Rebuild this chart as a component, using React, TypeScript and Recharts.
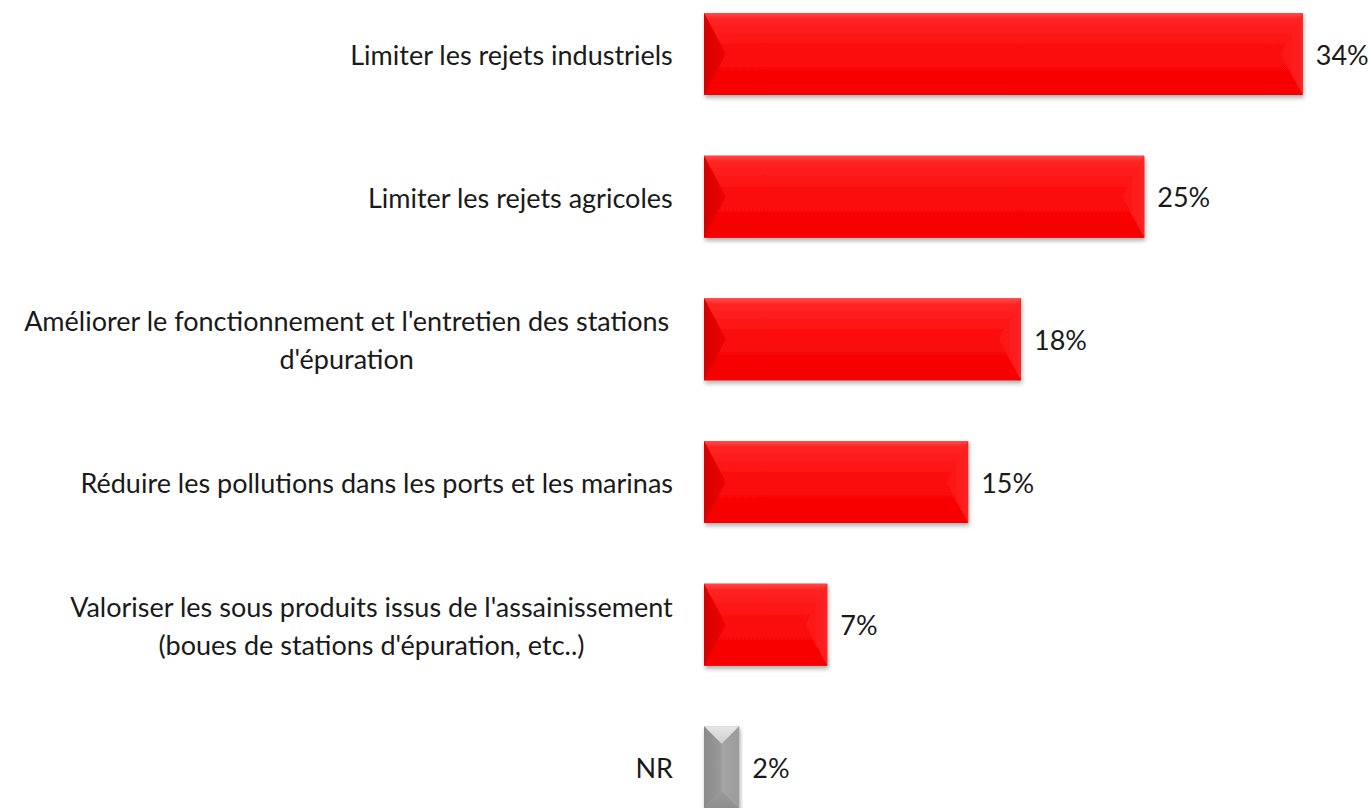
import React from "react";
import { BarChart, Bar, XAxis, YAxis, LabelList } from "recharts";

const categories = [
  "Limiter les rejets industriels",
  "Limiter les rejets agricoles",
  "Améliorer le fonctionnement  et l'entretien des stations\nd'épuration",
  "Réduire les pollutions dans les ports et les marinas",
  "Valoriser les sous produits issus de l'assainissement\n(boues de stations d'épuration, etc..)",
  "NR",
];
const values = [34, 25, 18, 15, 7, 2];
const valueLabels = ["34%", "25%", "18%", "15%", "7%", "2%"];
const barKinds = ["main", "main", "main", "main", "main", "nr"];

const data = categories.map((name, i) => ({
  name,
  value: values[i],
  label: valueLabels[i],
  kind: barKinds[i],
}));

const FONT = "Lato, 'Open Sans', sans-serif";
const FONT_SIZE = 27;

let ctx: CanvasRenderingContext2D | null = null;
function measure(t: string) {
  if (!ctx) {
    const c = document.createElement("canvas");
    ctx = c.getContext("2d");
  }
  if (!ctx) return t.length * 12;
  ctx.font = `${FONT_SIZE}px Lato`;
  return ctx.measureText(t).width;
}

const CategoryTick = (props: any) => {
  const { x, y, payload } = props;
  const lines: string[] = String(payload.value).split("\n");
  const widths = lines.map(measure);
  const maxW = Math.max(...widths);
  const lh = 38;
  const startY = y - ((lines.length - 1) * lh) / 2;
  return (
    <g>
      {lines.map((ln, i) => (
        <text
          key={i}
          x={x - maxW / 2}
          y={startY + i * lh}
          textAnchor="middle"
          dominantBaseline="central"
          fontFamily={FONT}
          fontSize={FONT_SIZE}
          fill="#1a1a1a"
        >
          {ln}
        </text>
      ))}
    </g>
  );
};

const BevelBar = (props: any) => {
  const { x, y, width: w, height: h, payload } = props;
  if (!w || w <= 0) return null;
  const nr = payload.kind === "nr";
  const bx = Math.min(22, w / 2);
  const by = nr ? bx : h / 2;
  const g = nr ? "nr" : "red";
  return (
    <g filter="url(#barShadow)">
      <rect x={x} y={y} width={w} height={h} fill={`url(#${g}Base)`} />
      <polygon
        points={`${x},${y} ${x + w},${y} ${x + w - bx},${y + by} ${x + bx},${y + by}`}
        fill={`url(#${g}Top)`}
      />
      <polygon
        points={`${x},${y + h} ${x + w},${y + h} ${x + w - bx},${y + h - by} ${x + bx},${y + h - by}`}
        fill={`url(#${g}Bottom)`}
      />
      <polygon
        points={`${x},${y} ${x + bx},${y + by} ${x + bx},${y + h - by} ${x},${y + h}`}
        fill={`url(#${g}Left)`}
      />
      <polygon
        points={`${x + w},${y} ${x + w - bx},${y + by} ${x + w - bx},${y + h - by} ${x + w},${y + h}`}
        fill={`url(#${g}Right)`}
      />
    </g>
  );
};

const ValueLabel = (props: any) => {
  const { x, y, width, height, value } = props;
  return (
    <text
      x={x + width + 13}
      y={y + height / 2}
      dominantBaseline="central"
      fontFamily={FONT}
      fontSize={FONT_SIZE}
      fill="#1a1a1a"
    >
      {value}
    </text>
  );
};

export default function App() {
  return (
    <div
      style={{
        position: "fixed",
        left: 0,
        top: 0,
        width: 1369,
        height: 808,
        overflow: "hidden",
        background: "#ffffff",
      }}
    >
      <div style={{ position: "absolute", left: 0, top: -17 }}>
        <BarChart
          width={1369}
          height={856}
          data={data}
          layout="vertical"
          margin={{ top: 0, right: 31, bottom: 0, left: 0 }}
          barCategoryGap="21%"
        >
          <defs>
            <filter id="barShadow" x="-10%" y="-20%" width="120%" height="150%">
              <feDropShadow dx="1" dy="3" stdDeviation="2" floodColor="#000" floodOpacity="0.3" />
            </filter>
            <linearGradient id="redBase" x1="0" y1="0" x2="0" y2="1">
              <stop offset="0" stopColor="#ff2020" />
              <stop offset="1" stopColor="#f50000" />
            </linearGradient>
            <linearGradient id="redTop" x1="0" y1="0" x2="0" y2="1">
              <stop offset="0" stopColor="#ff4a4a" />
              <stop offset="0.15" stopColor="#ff2424" />
              <stop offset="1" stopColor="#fc0a0a" />
            </linearGradient>
            <linearGradient id="redBottom" x1="0" y1="0" x2="0" y2="1">
              <stop offset="0" stopColor="#fc0a0a" />
              <stop offset="1" stopColor="#f50000" />
            </linearGradient>
            <linearGradient id="redLeft" x1="0" y1="0" x2="1" y2="0">
              <stop offset="0" stopColor="#d40000" />
              <stop offset="1" stopColor="#f20404" />
            </linearGradient>
            <linearGradient id="redRight" x1="0" y1="0" x2="1" y2="0">
              <stop offset="0" stopColor="#ff1212" />
              <stop offset="1" stopColor="#ff2222" />
            </linearGradient>
            <linearGradient id="nrBase" x1="0" y1="0" x2="1" y2="0">
              <stop offset="0" stopColor="#a8a8a8" />
              <stop offset="1" stopColor="#a8a8a8" />
            </linearGradient>
            <linearGradient id="nrTop" x1="0" y1="0" x2="0" y2="1">
              <stop offset="0" stopColor="#e6e6e6" />
              <stop offset="1" stopColor="#cfcfcf" />
            </linearGradient>
            <linearGradient id="nrBottom" x1="0" y1="0" x2="0" y2="1">
              <stop offset="0" stopColor="#9a9a9a" />
              <stop offset="1" stopColor="#8e8e8e" />
            </linearGradient>
            <linearGradient id="nrLeft" x1="0" y1="0" x2="1" y2="0">
              <stop offset="0" stopColor="#8a8a8a" />
              <stop offset="1" stopColor="#9a9a9a" />
            </linearGradient>
            <linearGradient id="nrRight" x1="0" y1="0" x2="1" y2="0">
              <stop offset="0" stopColor="#a4a4a4" />
              <stop offset="1" stopColor="#9c9c9c" />
            </linearGradient>
          </defs>
          <XAxis type="number" domain={[0, 36]} hide />
          <YAxis
            type="category"
            dataKey="name"
            width={704}
            axisLine={false}
            tickLine={false}
            tickSize={0}
            tickMargin={31}
            interval={0}
            tick={<CategoryTick />}
          />
          <Bar
            dataKey="value"
            barSize={82}
            isAnimationActive={false}
            shape={<BevelBar />}
          >
            <LabelList dataKey="label" content={<ValueLabel />} />
          </Bar>
        </BarChart>
      </div>
    </div>
  );
}
